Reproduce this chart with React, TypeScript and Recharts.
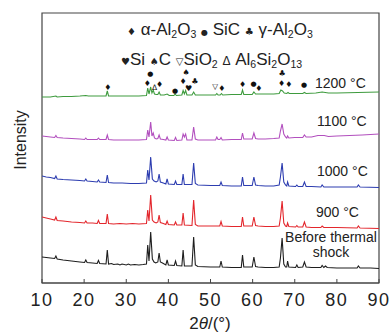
import { LineChart, Line, XAxis, YAxis, ReferenceArea, ReferenceDot } from 'recharts'

type Pt = [number, number]

// x: 2θ (deg), y: offset intensity (arb. units)
const xTicks = [10, 20, 30, 40, 50, 60, 70, 80, 90]

const before: Pt[] = [
  [10, 26], [11, 25.5], [12, 25], [13, 24.5], [13.3, 27], [13.6, 24], [15, 23], [17, 22], [19, 21],
  [20.1, 20.5], [20.4, 23], [20.7, 20.5], [22, 20], [23.1, 19.5], [23.4, 22.5], [23.7, 19.5],
  [25.2, 19], [25.5, 33], [25.8, 19], [26.5, 19.5], [27, 18.5], [28, 19], [28.5, 18], [29, 19],
  [30, 18], [30.5, 19], [31, 18], [32, 18.5], [33, 18], [34, 18.5], [34.8, 19], [35.1, 38],
  [35.4, 22], [35.8, 51], [36.2, 24], [36.6, 21], [37, 20], [37.5, 21], [37.8, 30], [38.1, 21],
  [38.6, 20], [39.4, 18], [39.7, 23], [40, 18], [41.4, 17.5], [41.7, 22], [42, 17.5], [43.2, 17],
  [43.5, 33], [43.8, 17], [45.6, 17], [46, 46], [46.4, 18], [47, 16.5], [50, 16], [52.2, 16],
  [52.5, 22], [52.8, 16], [55, 15.5], [57.3, 15.5], [57.6, 28], [57.9, 16], [59.9, 16], [60.3, 26],
  [60.7, 16.5], [61.3, 16], [63, 15.5], [65, 15.5], [66.3, 16], [66.6, 25], [67, 45], [67.4, 19],
  [67.8, 16], [68.1, 16], [68.3, 22], [68.6, 16], [70.2, 15.5], [70.5, 18], [70.8, 15.5], [71.9, 16],
  [72.3, 21], [72.7, 16], [74, 15.5], [76.2, 15.5], [76.5, 17.5], [76.9, 15.5], [77.3, 17], [77.7, 15.5],
  [80, 15], [84.8, 15], [85.1, 17], [85.5, 15], [88, 15], [90, 14.5],
]

const t900: Pt[] = [
  [10, 66], [11, 65], [12, 64], [13, 63], [13.3, 66], [13.6, 62.5], [15, 62], [17, 61], [19, 60.5],
  [20.1, 60], [20.4, 62], [20.7, 60], [22, 60], [23.1, 59.5], [23.4, 62.5], [23.7, 59.5], [25.2, 59.5],
  [25.5, 69], [25.8, 59.5], [27, 59], [28.5, 59.5], [30, 59], [31.5, 59.5], [33, 59], [34.8, 59.5],
  [35.1, 73], [35.4, 62], [35.8, 88], [36.2, 63], [36.6, 61], [37.1, 60], [37.5, 61], [37.8, 68],
  [38.1, 60.5], [38.8, 59.5], [39.4, 58.5], [39.7, 62], [40, 58.5], [41.4, 58], [41.7, 61], [42, 58],
  [43.2, 58], [43.5, 70], [43.8, 58], [45.6, 57.5], [46, 83], [46.4, 58.5], [47, 57], [50, 57],
  [52.2, 57], [52.5, 61.5], [52.8, 57], [55, 56.5], [57.3, 56.5], [57.6, 66], [57.9, 57], [59.9, 57],
  [60.3, 66], [60.7, 57.5], [61.3, 57], [63, 56.5], [65, 56.5], [66.3, 57], [66.6, 65], [67, 82],
  [67.4, 60], [67.8, 57], [68.1, 56.5], [68.3, 60], [68.6, 56.5], [70.2, 56], [70.5, 57.5], [70.8, 56],
  [71.9, 56], [72.3, 61], [72.7, 56], [74, 55.5], [76.2, 55.5], [76.5, 57], [76.9, 55.5], [80, 55.5],
  [84.8, 55], [85.1, 57], [85.5, 55], [90, 54.5],
]

const t1000: Pt[] = [
  [10, 107], [11, 106], [12, 105.5], [13, 104.5], [13.3, 107], [13.6, 104], [15, 103.5], [17, 103],
  [19, 102.5], [20.1, 102], [20.4, 104], [20.7, 102], [22, 101.5], [23.1, 101], [23.4, 103], [23.7, 101],
  [25.2, 100.5], [25.5, 108], [25.8, 100.5], [27, 100], [29, 100], [31, 99.5], [33, 99.5], [34.8, 100],
  [35.1, 113], [35.4, 103], [35.8, 126], [36.2, 104], [36.6, 102], [37.1, 101], [37.5, 102], [37.8, 109],
  [38.1, 101], [38.8, 100], [39.4, 99], [39.7, 104], [40, 99], [41.4, 98.5], [41.7, 102], [42, 98.5],
  [43.2, 98.5], [43.5, 109], [43.8, 98.5], [45.6, 98.5], [46, 120], [46.4, 99.5], [47, 98], [50, 97.5],
  [52.2, 97.5], [52.5, 101], [52.8, 97.5], [55, 97], [57.3, 97], [57.6, 106], [57.9, 97.5], [59.9, 97.5],
  [60.3, 106], [60.7, 98], [61.3, 97.5], [63, 97], [65, 97], [66.3, 98], [66.6, 106], [67, 120],
  [67.4, 101], [67.8, 98], [68.1, 97], [68.3, 101], [68.6, 97], [70.2, 96.5], [70.5, 98], [70.8, 96.5],
  [71.9, 96.5], [72.3, 101], [72.7, 96.5], [74, 96.5], [76.2, 96], [76.5, 98], [76.9, 96], [80, 96],
  [84.8, 96], [85.1, 98], [85.5, 96], [90, 95.5],
]

const t1100: Pt[] = [
  [10, 147], [11, 146.5], [12, 146], [13, 145.5], [13.3, 147.5], [13.6, 145.5], [15, 145], [17, 144.5],
  [19, 144], [20.1, 143.5], [20.4, 145], [20.7, 143.5], [22, 143.5], [23.1, 143.5], [23.4, 145],
  [23.7, 143.5], [25.2, 143.5], [25.5, 148], [25.8, 143.5], [27, 143], [29, 143], [31, 143], [33, 143],
  [34.8, 143.5], [35.1, 153], [35.4, 146], [35.8, 161], [36.1, 147], [36.4, 150], [36.7, 145], [37.1, 144],
  [37.5, 144.5], [37.8, 148], [38.1, 144], [38.8, 143.5], [39.4, 143], [39.7, 146], [40, 143], [41.4, 142.5],
  [41.7, 145.5], [42, 142.5], [43.2, 143], [43.5, 149], [43.8, 146], [44.1, 149], [44.4, 143], [45.6, 143],
  [46, 156], [46.4, 144], [47, 143], [50, 143], [51.2, 143], [51.5, 146], [51.8, 143.5], [52.2, 143.5],
  [52.5, 145.5], [52.8, 143], [55, 143.5], [57.3, 143.5], [57.6, 150], [57.9, 144], [59.9, 144], [60.3, 150],
  [60.7, 144.5], [61.3, 144], [63, 144], [65, 144.5], [66.3, 145], [66.6, 152], [67, 159], [67.4, 149],
  [67.8, 146], [68.1, 145], [68.3, 147], [68.6, 145], [70, 145.5], [71.9, 145.5], [72.3, 148], [72.7, 146],
  [74, 146], [75.5, 147.5], [77, 147.5], [78, 146.5], [80, 147], [83, 147.5], [86, 148], [90, 149],
]

const t1200: Pt[] = [
  [10, 186], [12, 186], [13.3, 187], [13.6, 186], [15, 186.5], [17, 186.5], [19, 187], [20.4, 187.5],
  [21, 187], [23, 187], [25.2, 187], [25.5, 192], [25.8, 187], [27, 187], [29, 187], [31, 187], [33, 187],
  [34.8, 187.5], [35.1, 195], [35.4, 189], [35.8, 196], [36.1, 190], [36.4, 193], [36.7, 189], [37.1, 188.5],
  [37.5, 188.5], [37.8, 191], [38.1, 188], [39, 188], [39.7, 189], [40.2, 187.5], [41.3, 187.5], [41.6, 189],
  [41.9, 187.5], [43.2, 188], [43.5, 192.5], [43.8, 189], [44.1, 192.5], [44.4, 188], [45.6, 188], [46, 191],
  [46.4, 188], [48, 188], [50, 188], [51.2, 188], [51.5, 189.5], [51.8, 188], [52.3, 188], [52.6, 189.5],
  [52.9, 188], [55, 188.5], [57.3, 188.5], [57.6, 193], [57.9, 188.5], [59.9, 188.5], [60.3, 191],
  [60.7, 189], [63, 189], [65, 189], [66.3, 189.5], [66.7, 193], [67.1, 192], [67.5, 190], [68.1, 189.5],
  [68.4, 190.5], [68.7, 189.5], [70, 189.5], [71.9, 189.5], [72.3, 190.5], [72.7, 189.5], [75, 190],
  [76.5, 191], [78, 190], [80, 190], [85, 190.5], [90, 191],
]

// phase markers over the 1200 °C pattern: [2θ, y, symbol]
const markers: [number, number, string][] = [
  [25.6, 196, '♦'], [35.0, 200, '♦'], [35.7, 209, '●'], [36.7, 196, 'Δ'], [37.9, 199, '♦'],
  [41.6, 192, '●'], [43.5, 202, '♦'], [44.2, 211, '♠'], [44.8, 195, '♥'], [46.3, 202, '♣'],
  [51.1, 197, '▽'], [52.7, 195, '♦'], [57.6, 199, '♦'], [60.2, 199, '●'], [61.5, 195, '♦'],
  [67.0, 210, '♣'], [66.9, 200, '♦'], [68.6, 199, '♦'], [72.2, 198, '●'],
]

const seriesNames = ['Before thermal shock', '900 °C', '1000 °C', '1100 °C', '1200 °C']
const seriesColors = ['#1e1e1e', '#e3262c', '#2d3db0', '#b24fbe', '#3e9b3e']
const seriesData = [before, t900, t1000, t1100, t1200]

const font = '"Liberation Sans", Arial, sans-serif'
const symFont = '"DejaVu Sans", sans-serif'

const toRows = (pts: Pt[]) => pts.map(([x, y]) => ({ x, y }))

const sub = (s: string) => (
  <sub style={{ fontSize: '0.62em', verticalAlign: '-0.3em', lineHeight: 0 }}>{s}</sub>
)

function Tag({ left, top, children }: { left: number; top: number; children: React.ReactNode }) {
  return (
    <div style={{ position: 'absolute', left, top, fontSize: 14, lineHeight: '14px', color: '#222', whiteSpace: 'nowrap' }}>
      {children}
    </div>
  )
}

export default function App() {
  return (
    <div style={{ position: 'absolute', left: 0, top: 0, width: 392, height: 336, fontFamily: font, background: '#fff' }}>
      <LineChart width={392} height={336} margin={{ top: 13, right: 13, bottom: 23, left: 42 }}>
        <XAxis
          type="number"
          dataKey="x"
          domain={[10, 90]}
          ticks={xTicks}
          allowDataOverflow
          height={30}
          tickSize={-4}
          tickMargin={14}
          axisLine={{ stroke: '#444', strokeWidth: 1.2 }}
          tickLine={{ stroke: '#444' }}
          tick={{ fontSize: 18, fill: '#222', fontFamily: font, letterSpacing: 1.5 }}
        />
        <YAxis type="number" dataKey="y" domain={[0, 270]} hide width={0} />
        <ReferenceArea x1={10} x2={90} y1={0} y2={270} fill="none" stroke="#444" strokeWidth={1.2} />
        {seriesData.map((pts, i) => (
          <Line
            key={seriesNames[i]}
            data={toRows(pts)}
            dataKey="y"
            name={seriesNames[i]}
            type="linear"
            stroke={seriesColors[i]}
            strokeWidth={1.1}
            dot={false}
            isAnimationActive={false}
          />
        ))}
        {markers.map(([x, y, s], i) => (
          <ReferenceDot
            key={i}
            x={x}
            y={y}
            r={0}
            stroke="none"
            label={{ value: s, position: 'center', fontSize: s === '●' ? 7 : s === 'Δ' || s === '▽' ? 7.5 : 8, fill: '#111', fontFamily: symFont }}
          />
        ))}
      </LineChart>

      <div style={{ position: 'absolute', left: 127, top: 21, fontSize: 17, lineHeight: '17px', color: '#222', whiteSpace: 'nowrap' }}>
        <span style={{ fontFamily: symFont, fontSize: 10 }}>♦</span> α-Al{sub('2')}O{sub('3')}{' '}
        <span style={{ fontFamily: symFont, fontSize: 8 }}>●</span> SiC{'  '}
        <span style={{ fontFamily: symFont, fontSize: 10 }}>♣</span> γ-Al{sub('2')}O{sub('3')}
      </div>
      <div style={{ position: 'absolute', left: 121, top: 51, fontSize: 17, lineHeight: '17px', color: '#222', whiteSpace: 'nowrap' }}>
        <span style={{ fontFamily: symFont, fontSize: 10 }}>♥</span>Si{' '}
        <span style={{ fontFamily: symFont, fontSize: 10 }}>♠</span>C{' '}
        <span style={{ fontFamily: symFont, fontSize: 10 }}>▽</span>SiO{sub('2')}{' '}
        <span style={{ fontSize: 12 }}>Δ</span> Al{sub('6')}Si{sub('2')}O{sub('13')}
      </div>

      <Tag left={315} top={76}>1200 °C</Tag>
      <Tag left={317} top={114}>1100 °C</Tag>
      <Tag left={317} top={164}>1000 °C</Tag>
      <Tag left={316} top={205}>900 °C</Tag>
      <div style={{ position: 'absolute', left: 282, top: 230, width: 98, fontSize: 14, lineHeight: '15px', color: '#222', textAlign: 'center' }}>
        Before thermal<br />shock
      </div>

      <div style={{ position: 'absolute', left: 6, top: 140, transform: 'translate(0, -50%) rotate(-90deg)', transformOrigin: 'center', fontSize: 16, lineHeight: '16px', color: '#222', width: 30, display: 'flex', justifyContent: 'center' }}>
        Intensity
      </div>
      <div style={{ position: 'absolute', left: 160, top: 315, width: 100, textAlign: 'center', fontSize: 17, lineHeight: '17px', color: '#222' }}>
        2<i>θ</i>/(°)
      </div>
    </div>
  )
}
